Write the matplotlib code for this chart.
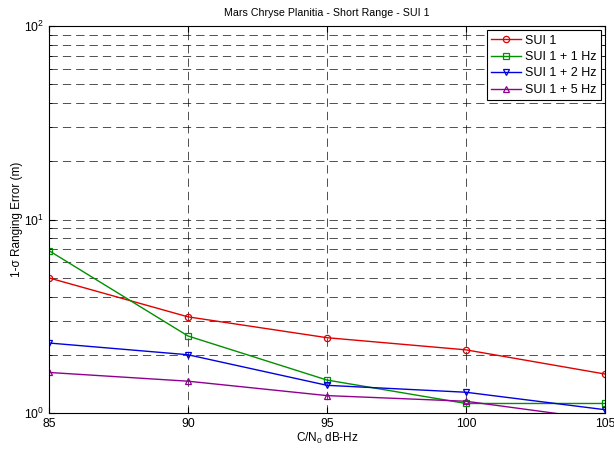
import numpy as np
import matplotlib
matplotlib.use("Agg")
import matplotlib.pyplot as plt
from matplotlib.ticker import LogLocator, NullFormatter

plt.rcParams['font.family'] = ['Liberation Sans', 'DejaVu Sans']
plt.rcParams['mathtext.fontset'] = 'custom'
plt.rcParams['mathtext.rm'] = 'Liberation Sans'
plt.rcParams['mathtext.it'] = 'Liberation Sans'

cn0 = [85, 90, 95, 100, 105]
sui1 = [4.99, 3.14, 2.45, 2.12, 1.59]
sui1_1hz = [6.9, 2.5, 1.48, 1.12, 1.12]
sui1_2hz = [2.30, 2.0, 1.39, 1.28, 1.04]
sui1_5hz = [1.62, 1.46, 1.23, 1.15, 0.92]

series = [
    ("SUI 1", sui1, "#e00000", "o"),
    ("SUI 1 + 1 Hz", sui1_1hz, "#009000", "s"),
    ("SUI 1 + 2 Hz", sui1_2hz, "#0000e0", "v"),
    ("SUI 1 + 5 Hz", sui1_5hz, "#900090", "^"),
]

fig = plt.figure(figsize=(6.14, 4.5), dpi=100)
ax = fig.add_axes([49/614, 37/450, 556/614, 387/450])

for label, vals, color, mk in series:
    ax.plot(cn0, vals, color=color, marker=mk, markersize=4.5, markerfacecolor='none',
            markeredgewidth=0.9, linewidth=1.0, label=label)

ax.set_yscale('log')
ax.set_ylim(1, 100)
ax.set_xlim(85, 105)
ax.set_xticks(cn0)
ax.yaxis.set_major_locator(LogLocator(base=10, numticks=5))
ax.yaxis.set_minor_locator(LogLocator(base=10, subs=np.arange(2, 10), numticks=20))
ax.yaxis.set_minor_formatter(NullFormatter())

ax.tick_params(which='both', direction='in', top=True, right=True, labelsize=8.8)
ax.tick_params(which='major', length=4)
ax.tick_params(which='minor', length=2)
dash = (0, (10, 6))
ax.grid(True, which='major', axis='both', color='k', linestyle=dash, linewidth=0.6, alpha=0.8)
ax.grid(True, which='minor', axis='y', color='k', linestyle=dash, linewidth=0.6, alpha=0.8)
for sp in ax.spines.values():
    sp.set_linewidth(0.8)

ax.set_title("Mars Chryse Planitia - Short Range - SUI 1", fontsize=7.7, pad=7)
ax.set_xlabel("C/N$_0$ dB-Hz", fontsize=8.5, labelpad=1)
ax.set_ylabel("1-\u03c3 Ranging Error (m)", fontsize=8.5, labelpad=1)

leg = ax.legend(loc='upper right', fontsize=9, fancybox=False, framealpha=1,
                edgecolor='k', handlelength=2.4, borderaxespad=0.35,
                labelspacing=0.35, handletextpad=0.3, borderpad=0.35)
leg.get_frame().set_linewidth(0.8)

fig.savefig("out.png", dpi=100)
